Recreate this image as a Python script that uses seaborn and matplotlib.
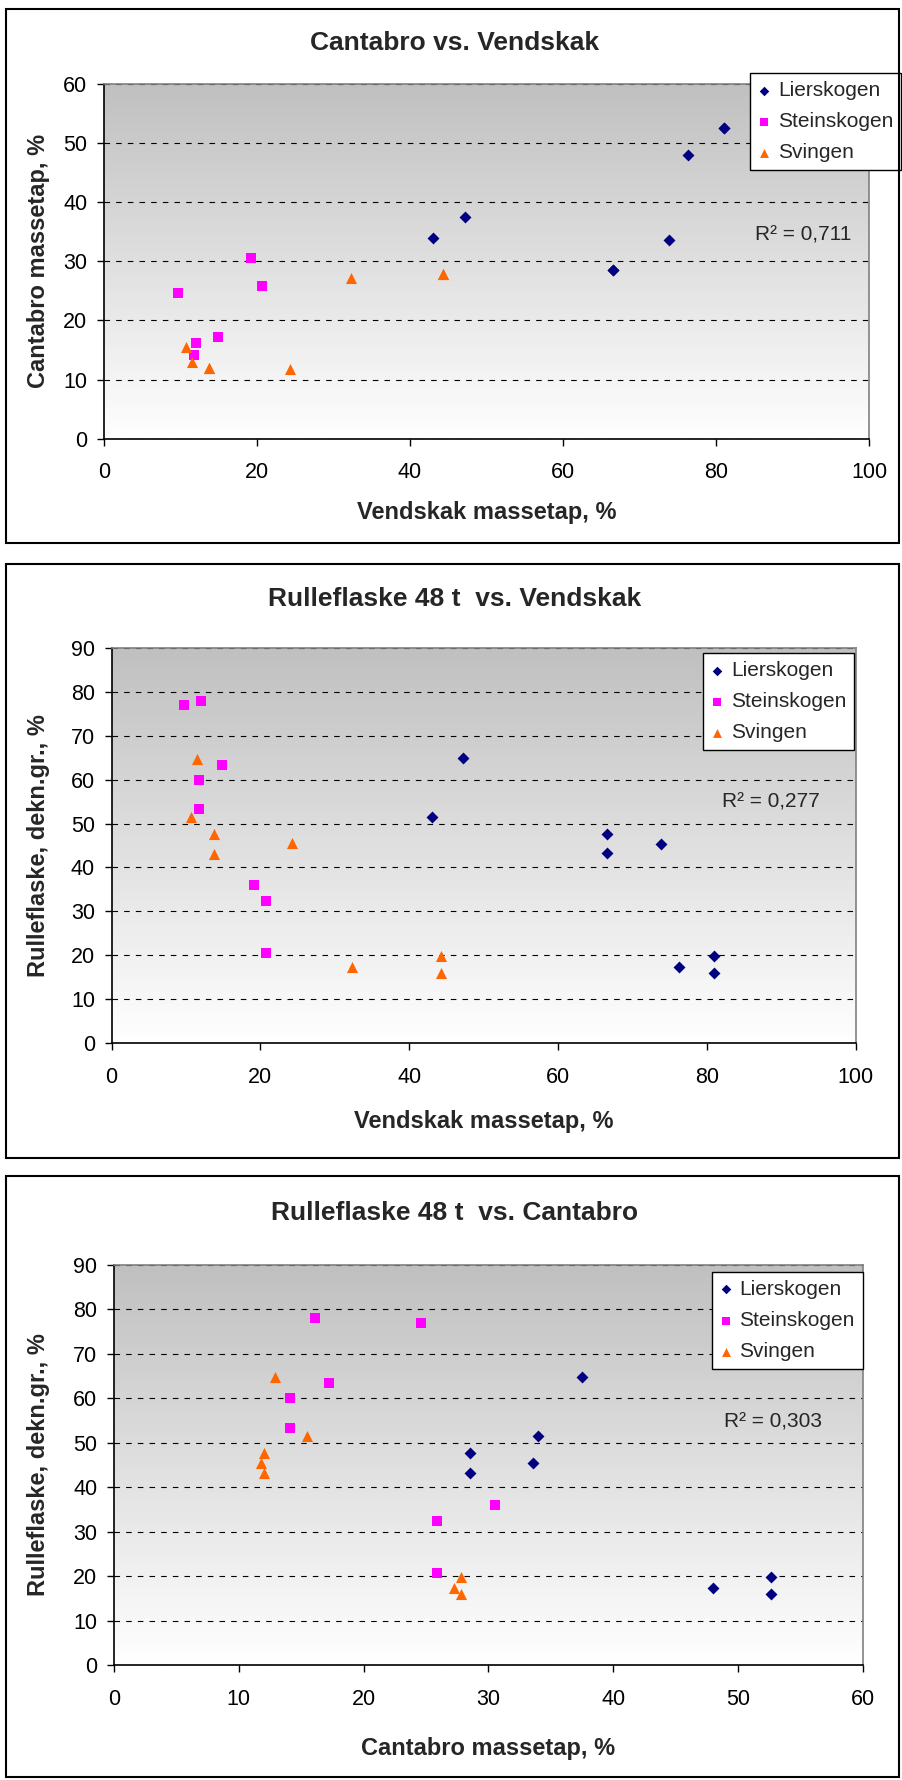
import numpy as np
import pandas as pd
import matplotlib
matplotlib.use('Agg')
import matplotlib.pyplot as plt
from matplotlib.patches import Rectangle
import seaborn as sns

sns.set_style('ticks')
plt.rcParams['font.family'] = ['Liberation Sans', 'DejaVu Sans']

# --- data (one value per sample: Vendskak, Cantabro, Rulleflaske 48 t) ---
sites = ['Lierskogen', 'Steinskogen', 'Svingen']

lier_vendskak = [47.2, 43.0, 66.6, 66.6, 73.9, 76.3, 81.0, 81.0]
lier_cantabro = [37.5, 34.0, 28.5, 28.5, 33.6, 48.0, 52.6, 52.6]
lier_rulle = [64.9, 51.6, 47.6, 43.2, 45.4, 17.3, 19.8, 16.0]

stein_vendskak = [9.7, 12.0, 14.9, 11.8, 11.8, 19.2, 20.7, 20.7]
stein_cantabro = [24.6, 16.1, 17.2, 14.1, 14.1, 30.5, 25.9, 25.9]
stein_rulle = [76.9, 78.0, 63.4, 60.0, 53.4, 36.1, 32.4, 20.6]

sving_vendskak = [11.5, 10.7, 13.7, 13.7, 24.3, 32.3, 44.3, 44.3]
sving_cantabro = [12.9, 15.5, 12.0, 12.0, 11.8, 27.2, 27.8, 27.8]
sving_rulle = [64.8, 51.6, 47.6, 43.1, 45.5, 17.3, 19.8, 15.9]

r2_values = ['0,711', '0,277', '0,303']

df = pd.DataFrame({
    'site': ['Lierskogen'] * 8 + ['Steinskogen'] * 8 + ['Svingen'] * 8,
    'vendskak': lier_vendskak + stein_vendskak + sving_vendskak,
    'cantabro': lier_cantabro + stein_cantabro + sving_cantabro,
    'rulle': lier_rulle + stein_rulle + sving_rulle,
})

# --- styles ---
colors = {'Lierskogen': '#000080', 'Steinskogen': '#FF00FF', 'Svingen': '#FF6600'}
markers = {'Lierskogen': 'D', 'Steinskogen': 's', 'Svingen': '^'}
msizes = {'Lierskogen': 37, 'Steinskogen': 50, 'Svingen': 64}

W, H = 902, 1780
fig = plt.figure(figsize=(W / 100, H / 100), dpi=100)

# layout per chart: axes box in px (left, top, right, bottom), title y,
# outer frame (top, bottom), legend anchor, R² position, label offsets
panels = [
    dict(title='Cantabro vs. Vendskak', x='vendskak', y='cantabro',
         xlabel='Vendskak massetap, %', ylabel='Cantabro massetap, %',
         xmax=100, xstep=20, ymax=60, r2=r2_values[0],
         box=(104, 84, 869, 438.6), title_y=43.5, frame=(8.7, 543),
         leg=(0.8445, 1.030), r2pos=(0.851, 0.574), xl=-0.2087, yl=-0.085),
    dict(title='Rulleflaske 48 t  vs. Vendskak', x='vendskak', y='rulle',
         xlabel='Vendskak massetap, %', ylabel='Rulleflaske, dekn.gr., %',
         xmax=100, xstep=20, ymax=90, r2=r2_values[1],
         box=(111.6, 648, 855.6, 1043), title_y=599.4, frame=(564, 1157.6),
         leg=(0.795, 0.987), r2pos=(0.820, 0.610), xl=-0.1975, yl=-0.0976),
    dict(title='Rulleflaske 48 t  vs. Cantabro', x='cantabro', y='rulle',
         xlabel='Cantabro massetap, %', ylabel='Rulleflaske, dekn.gr., %',
         xmax=60, xstep=10, ymax=90, r2=r2_values[2],
         box=(114, 1265, 863, 1665), title_y=1213, frame=(1176, 1777),
         leg=(0.798, 0.9825), r2pos=(0.814, 0.6075), xl=-0.2075, yl=-0.1008),
]

grad = np.linspace(0.753, 1.0, 256)[:, None]
grad_img = np.dstack([grad, grad, grad])

for p in panels:
    l, t, r, b = p['box']
    ax = fig.add_axes([l / W, 1 - b / H, (r - l) / W, (b - t) / H])

    # plot area gradient (gray to white)
    ax.imshow(grad_img, extent=[0, p['xmax'], 0, p['ymax']], aspect='auto',
              zorder=0, interpolation='bilinear')

    for s in sites:
        sub = df[df['site'] == s]
        sns.scatterplot(data=sub, x=p['x'], y=p['y'], ax=ax, color=colors[s],
                        marker=markers[s], s=msizes[s], linewidth=0,
                        label=s, zorder=3)

    ax.set_xlim(0, p['xmax'])
    ax.set_ylim(0, p['ymax'])
    ax.set_xticks(np.arange(0, p['xmax'] + 1, p['xstep']))
    ax.set_yticks(np.arange(0, p['ymax'] + 1, 10))

    ax.set_axisbelow(True)
    ax.yaxis.grid(True, color='black', linewidth=0.8, linestyle=(0, (5, 5.5)))
    ax.xaxis.grid(False)

    for side in ['left', 'bottom']:
        ax.spines[side].set_color('black')
        ax.spines[side].set_linewidth(1.2)
    for side in ['top', 'right']:
        ax.spines[side].set_color('#808080')
        ax.spines[side].set_linewidth(1.2)

    ax.tick_params(direction='out', length=5, width=1, labelsize=15.5,
                   colors='black')
    ax.tick_params(axis='y', pad=7)
    ax.tick_params(axis='x', pad=12)

    ax.set_xlabel(p['xlabel'], fontsize=17, fontweight='bold', va='center')
    ax.xaxis.set_label_coords(0.5, p['xl'])
    ax.set_ylabel(p['ylabel'], fontsize=17, fontweight='bold', va='center')
    ax.yaxis.set_label_coords(p['yl'], 0.5)

    leg = ax.legend(loc='upper left', bbox_to_anchor=p['leg'], borderaxespad=0,
                    fontsize=15, frameon=True, fancybox=False, framealpha=1,
                    edgecolor='black', borderpad=0.38, handlelength=0.6,
                    handletextpad=0.35, labelspacing=0.58, markerscale=0.8)
    leg.get_frame().set_linewidth(1)
    leg.set_zorder(5)

    ax.text(p['r2pos'][0], p['r2pos'][1], 'R² = ' + p['r2'], transform=ax.transAxes,
            fontsize=15, va='center', ha='left', zorder=4)

    fig.text(455 / W, 1 - p['title_y'] / H, p['title'], ha='center', va='center',
             fontsize=19, fontweight='bold')

    ft, fb = p['frame']
    fig.add_artist(Rectangle((5.8 / W, 1 - fb / H), (899 - 5.8) / W, (fb - ft) / H,
                             transform=fig.transFigure, fill=False,
                             edgecolor='black', linewidth=1.5))

fig.savefig('out.png', dpi=100, facecolor='white')
